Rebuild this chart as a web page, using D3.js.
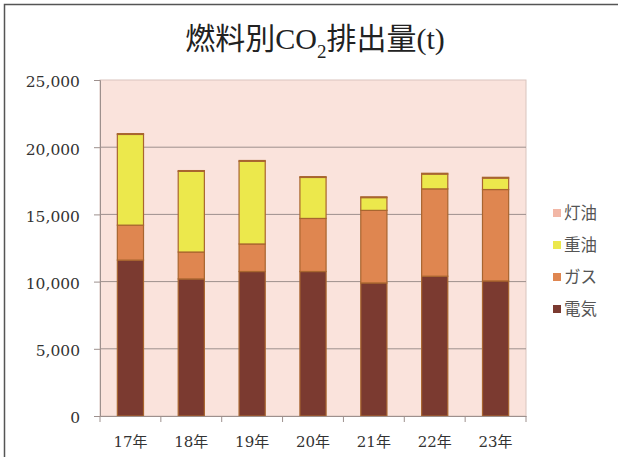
<!DOCTYPE html>
<html>
<head>
<meta charset="utf-8">
<script src="https://cdn.jsdelivr.net/npm/d3@7/dist/d3.min.js"></script>
<style>
  html, body { margin: 0; padding: 0; background: #fff; }
  svg { display: block; }
</style>
</head>
<body>
<script>
// Fiscal years (Heisei) on the category axis
const categories = ["17年", "18年", "19年", "20年", "21年", "22年", "23年"];

// CO2 emissions by fuel type (t), stacked bottom to top
const electricity = [11600, 10200, 10750, 10750, 9900, 10400, 10050]; // 電気
const gas         = [2600, 2000, 2050, 3950, 5400, 6500, 6800];       // ガス
const heavyOil    = [6750, 6000, 6150, 3050, 950, 1100, 850];         // 重油
const kerosene    = [60, 60, 60, 60, 60, 60, 60];                     // 灯油

const seriesKeys   = ["電気", "ガス", "重油", "灯油"];
const seriesValues = [electricity, gas, heavyOil, kerosene];
const legendOrder  = ["灯油", "重油", "ガス", "電気"];

const yTicks = [0, 5000, 10000, 15000, 20000, 25000];

const colors = {
  "電気": "#7b3a30",
  "ガス": "#df8650",
  "重油": "#ece84c",
  "灯油": "#f2b7a6"
};

const W = 618, H = 457;
const plot = { left: 100, right: 526, top: 80, bottom: 416 };

const svg = d3.select("body").append("svg")
  .attr("width", W).attr("height", H);

// outer frame (top and left edges)
svg.append("path")
  .attr("d", `M4.5,${H} V4.5 H${W}`)
  .attr("fill", "none").attr("stroke", "#555").attr("stroke-width", 1.5);

// title
const title = svg.append("text")
  .attr("x", 315).attr("y", 49)
  .attr("text-anchor", "middle")
  .attr("font-family", "'Liberation Serif', 'Noto Sans CJK JP', serif")
  .attr("font-size", 30)
  .attr("fill", "#222");
title.append("tspan").text("燃料別CO");
title.append("tspan").attr("dy", 9).attr("font-size", 19).text("2");
title.append("tspan").attr("dy", -9).text("排出量(t)");

// table rows for the stack
const rows = categories.map((c, i) => {
  const r = { cat: c };
  seriesKeys.forEach((k, j) => { r[k] = seriesValues[j][i]; });
  return r;
});
const stacked = d3.stack().keys(seriesKeys)(rows);

const x = d3.scaleBand()
  .domain(categories)
  .range([plot.left, plot.right])
  .paddingInner(0.57)
  .paddingOuter(0.285);

const y = d3.scaleLinear()
  .domain([0, 25000])
  .range([plot.bottom, plot.top]);

// plot background
svg.append("rect")
  .attr("x", plot.left).attr("y", plot.top)
  .attr("width", plot.right - plot.left).attr("height", plot.bottom - plot.top)
  .attr("fill", "#fae3dc")
  .attr("stroke", "#d9c4be").attr("stroke-width", 1);

// horizontal gridlines
svg.append("g")
  .selectAll("line")
  .data(yTicks.filter(t => t > 0 && t < 25000))
  .join("line")
  .attr("x1", plot.left).attr("x2", plot.right)
  .attr("y1", d => y(d)).attr("y2", d => y(d))
  .attr("stroke", "#9d908d").attr("stroke-width", 1);

// y axis
const yAxis = svg.append("g")
  .attr("transform", `translate(${plot.left},0)`)
  .call(d3.axisLeft(y).tickValues(yTicks).tickFormat(d3.format(",")).tickSize(6).tickPadding(14));
yAxis.select(".domain").attr("stroke", "#9d908d");
yAxis.selectAll(".tick line").attr("stroke", "#9d908d");
yAxis.selectAll("text")
  .attr("font-family", "'DejaVu Serif', serif")
  .attr("font-size", 15.5)
  .attr("dy", "0.45em")
  .attr("fill", "#333");

// stacked bars
svg.append("g")
  .selectAll("g")
  .data(stacked)
  .join("g")
  .attr("fill", d => colors[d.key])
  .selectAll("rect")
  .data(d => d)
  .join("rect")
  .attr("x", d => x(d.data.cat))
  .attr("width", x.bandwidth())
  .attr("y", d => y(d[1]))
  .attr("height", d => y(d[0]) - y(d[1]))
  .attr("stroke", "#a8652f")
  .attr("stroke-width", 1.2);

// x axis: labels under bands, ticks at band boundaries
const xAxis = svg.append("g")
  .attr("transform", `translate(0,${plot.bottom})`)
  .call(d3.axisBottom(x).tickSize(0).tickPadding(20));
xAxis.select(".domain").attr("stroke", "#9d908d");
xAxis.selectAll("text")
  .attr("font-family", "'DejaVu Serif', 'Noto Sans CJK JP', serif")
  .attr("font-size", 15)
  .attr("fill", "#333");
svg.append("g")
  .selectAll("line")
  .data(d3.range(categories.length + 1))
  .join("line")
  .attr("x1", i => plot.left + i * x.step())
  .attr("x2", i => plot.left + i * x.step())
  .attr("y1", plot.bottom).attr("y2", plot.bottom + 6)
  .attr("stroke", "#9d908d");

// legend
const legend = svg.append("g")
  .selectAll("g")
  .data(legendOrder)
  .join("g")
  .attr("transform", (d, i) => `translate(553,${213 + i * 32})`);
legend.append("rect")
  .attr("x", 0).attr("y", -4).attr("width", 8).attr("height", 8)
  .attr("fill", d => colors[d]);
legend.append("text")
  .attr("x", 11).attr("y", 0).attr("dy", "0.36em")
  .attr("font-family", "'Noto Sans CJK JP', sans-serif")
  .attr("font-size", 16.5)
  .attr("fill", "#555")
  .text(d => d);
</script>
</body>
</html>
